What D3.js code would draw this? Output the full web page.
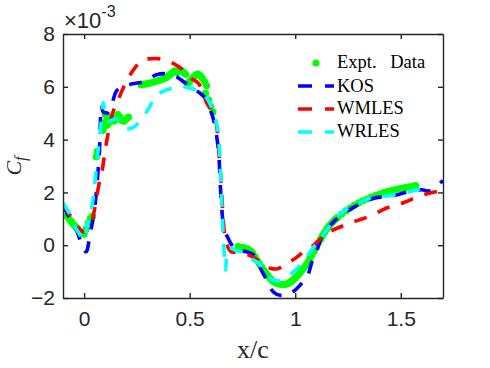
<!DOCTYPE html>
<html>
<head>
<meta charset="utf-8">
<script src="https://cdn.jsdelivr.net/npm/d3@7"></script>
<style>
  body { margin: 0; background: #fff; }
  svg { display: block; }
</style>
</head>
<body>
<svg id="chart" width="490" height="368"></svg>
<script>
// values are Cf x 1e-3
const expX = [-0.08,-0.07,-0.06,-0.05,-0.04,-0.03,-0.02,-0.01,0.00,0.01,0.02,0.03,0.04,
  0.058,0.062,0.085,0.09,0.095,0.10,0.105,0.11,0.115,0.12,0.13,0.14,0.15,0.16,0.17,0.18,0.19,0.20,0.21,
  0.27,0.285,0.30,0.315,0.33,0.345,0.36,0.375,0.39,0.40,0.41,0.42,0.43,0.44,0.45,0.46,0.47,0.48,
  0.49,0.50,0.51,0.52,0.53,0.54,0.55,0.56,0.57,0.58,0.575,0.59,0.60,0.61,
  0.73,0.745,0.76,0.775,0.79,0.80,0.81,0.82,0.83,0.84,0.85,0.86,0.87,0.88,0.89,0.90,0.91,0.92,0.93,0.94,
  0.95,0.96,0.97,0.98,0.99,1.00,1.01,1.02,1.03,1.04,1.05,1.06,1.07,1.08,1.09,1.10,1.11,1.12,1.13,1.14,
  1.15,1.16,1.17,1.18,1.19,1.20,1.22,1.24,1.26,1.28,1.30,1.32,1.34,1.36,1.38,1.40,1.42,1.44,1.46,1.48,
  1.50,1.52,1.54,1.56,1.57];
const expY = [1.10,0.98,0.88,0.78,0.70,0.62,0.52,0.45,0.42,0.62,0.85,1.02,1.10,
  3.35,3.55,4.55,4.35,4.6,4.95,4.7,4.55,4.6,4.75,4.85,4.7,4.75,4.95,4.85,4.72,4.7,4.78,4.85,
  6.08,6.1,6.12,6.15,6.18,6.22,6.25,6.3,6.35,6.42,6.48,6.55,6.6,6.55,6.6,6.62,6.55,6.48,
  6.12,6.2,6.3,6.38,6.45,6.48,6.42,6.32,6.2,6.05,5.75,5.5,5.25,5.05,
  -0.05,-0.08,-0.1,-0.14,-0.22,-0.32,-0.45,-0.58,-0.7,-0.82,-0.94,-1.05,-1.15,-1.25,-1.33,-1.39,-1.43,-1.46,-1.48,-1.49,
  -1.49,-1.47,-1.43,-1.38,-1.31,-1.24,-1.16,-1.07,-0.97,-0.87,-0.76,-0.64,-0.5,-0.36,-0.21,-0.06,0.09,0.23,0.37,0.5,
  0.62,0.72,0.82,0.9,0.98,1.05,1.18,1.3,1.41,1.51,1.6,1.68,1.75,1.82,1.88,1.94,1.99,2.04,2.08,2.12,
  2.15,2.18,2.21,2.24,2.26];

const kosX = [-0.1,-0.06,-0.03,-0.01,0.01,0.03,0.05,0.065,0.075,0.08,0.09,0.11,0.13,0.15,0.18,0.22,0.26,0.30,0.34,0.38,
  0.42,0.47,0.50,0.55,0.58,0.60,0.62,0.63,0.64,0.645,0.65,0.655,0.665,0.68,0.70,0.73,0.77,0.80,0.82,0.84,
  0.86,0.88,0.90,0.93,0.96,0.98,1.00,1.03,1.06,1.08,1.10,1.12,1.15,1.19,1.23,1.28,1.32,1.36,1.40,1.45,
  1.50,1.55,1.60,1.63,1.67,1.70];
const kosY = [1.5,0.9,0.45,0.0,-0.25,0.5,1.4,2.7,4.0,5.3,5.05,5.0,5.3,5.8,6.0,6.1,6.15,6.25,6.45,6.5,
  6.45,6.2,6.0,5.75,5.5,5.1,4.5,4.0,3.2,2.3,1.6,1.1,0.6,0.3,0.0,-0.2,-0.25,-0.35,-0.6,-0.95,
  -1.25,-1.6,-1.8,-1.9,-1.9,-1.8,-1.7,-1.45,-1.15,-0.6,-0.25,0.2,0.6,0.95,1.2,1.45,1.62,1.75,1.82,1.85,
  1.95,2.05,2.1,2.05,2.25,2.45];

const wmlesX = [-0.1,-0.05,-0.02,0.0,0.02,0.04,0.055,0.07,0.085,0.1,0.13,0.166,0.2,0.23,0.29,0.34,0.42,0.45,0.51,0.545,
  0.58,0.61,0.63,0.635,0.64,0.645,0.65,0.653,0.657,0.662,0.67,0.70,0.75,0.80,0.84,0.88,0.91,0.95,1.0,1.04,
  1.08,1.15,1.21,1.27,1.32,1.38,1.43,1.51,1.57,1.63,1.70];
const wmlesY = [1.5,0.95,0.6,0.5,0.6,1.0,1.6,2.3,2.8,3.6,4.85,5.6,6.2,6.6,7.05,7.07,6.9,6.75,6.3,6.1,
  5.4,5.0,4.4,3.9,3.3,2.8,2.2,1.8,1.2,0.7,0.2,-0.26,-0.3,-0.45,-0.65,-0.87,-0.9,-0.75,-0.5,-0.25,
  -0.05,0.45,0.68,0.87,1.0,1.2,1.4,1.6,1.8,1.96,2.08];

const wrlesX = [-0.1,-0.07,-0.05,-0.02,0.0,0.015,0.03,0.045,0.055,0.065,0.08,0.09,0.10,0.12,0.15,0.18,0.20,0.23,0.27,0.30,
  0.34,0.38,0.42,0.46,0.50,0.54,0.57,0.60,0.62,0.635,0.645,0.65,0.655,0.66,0.665,0.67,0.675,0.69,0.72,0.76,
  0.80,0.83,0.86,0.89,0.92,0.96,1.00,1.04,1.08,1.12,1.16,1.20,1.25,1.30,1.36,1.45,1.55,1.60];
const wrlesY = [1.6,1.2,0.8,0.4,0.2,0.8,1.2,1.9,2.7,3.5,4.6,5.4,5.0,4.7,4.8,4.6,4.4,4.45,4.75,5.1,
  5.65,5.85,5.95,6.02,5.95,5.85,5.7,5.3,4.8,4.3,3.0,2.0,1.0,0.2,-0.5,-0.95,-0.3,-0.1,-0.2,-0.3,
  -0.55,-0.7,-1.0,-1.3,-1.35,-1.2,-0.95,-0.6,-0.15,0.25,0.7,1.1,1.4,1.6,1.8,1.88,2.05,2.15];

const xTicks = [0, 0.5, 1, 1.5];
const yTicks = [-2, 0, 2, 4, 6, 8];
const seriesNames = ["Expt. Data", "KOS", "WMLES", "WRLES"];
const seriesColors = ["#00ff00", "#0000ff", "#ff0000", "#00ffff"];

const svg = d3.select("#chart");
const mLeft = 63, mRight = 443, mTop = 34, mBottom = 298;

const x = d3.scaleLinear().domain([-0.1, 1.7]).range([mLeft, mRight]);
const y = d3.scaleLinear().domain([-2, 8]).range([mBottom, mTop]);

const axisColor = "#262626";
const tickFont = "'Liberation Sans', Arial, sans-serif";
const serif = "'Liberation Serif', 'Times New Roman', serif";

// plot area clip
svg.append("defs").append("clipPath").attr("id", "clip")
  .append("rect").attr("x", mLeft).attr("y", mTop).attr("width", mRight - mLeft).attr("height", mBottom - mTop);

const plot = svg.append("g").attr("clip-path", "url(#clip)");

// experimental points
plot.append("g").selectAll("circle")
  .data(d3.zip(expX, expY))
  .join("circle")
  .attr("cx", d => x(d[0]))
  .attr("cy", d => y(d[1]))
  .attr("r", 3.6)
  .attr("fill", seriesColors[0]);

const line = d3.line()
  .x(d => x(d[0]))
  .y(d => y(d[1]))
  .curve(d3.curveMonotoneX);

const lines = [
  d3.zip(kosX, kosY),
  d3.zip(wmlesX, wmlesY),
  d3.zip(wrlesX, wrlesY)
];

plot.selectAll("path.series")
  .data(lines)
  .join("path")
  .attr("class", "series")
  .attr("d", line)
  .attr("fill", "none")
  .attr("stroke", (d, i) => seriesColors[i + 1])
  .attr("stroke-width", 3.6)
  .attr("stroke-dasharray", "13,12");

// axes, ticks inward on all four sides
const styleAxis = g => {
  g.attr("font-family", tickFont).attr("font-size", 21);
  g.select(".domain").attr("stroke", axisColor).attr("stroke-width", 1.4);
  g.selectAll(".tick line").attr("stroke", axisColor).attr("stroke-width", 1.4);
  g.selectAll(".tick text").attr("fill", axisColor);
};

svg.append("g")
  .attr("transform", `translate(0,${mBottom})`)
  .call(d3.axisBottom(x).tickValues(xTicks).tickFormat(d3.format("")).tickSizeInner(-5).tickSizeOuter(0).tickPadding(13))
  .call(styleAxis);

svg.append("g")
  .attr("transform", `translate(0,${mTop})`)
  .call(d3.axisTop(x).tickValues(xTicks).tickFormat("").tickSizeInner(-5).tickSizeOuter(0))
  .call(styleAxis);

svg.append("g")
  .attr("transform", `translate(${mLeft},0)`)
  .call(d3.axisLeft(y).tickValues(yTicks).tickFormat(d3.format("")).tickSizeInner(-5).tickSizeOuter(0).tickPadding(8))
  .call(styleAxis);

svg.append("g")
  .attr("transform", `translate(${mRight},0)`)
  .call(d3.axisRight(y).tickValues(yTicks).tickFormat("").tickSizeInner(-5).tickSizeOuter(0))
  .call(styleAxis);

// exponent label
const expo = svg.append("text")
  .attr("x", 64).attr("y", 28)
  .attr("font-family", tickFont).attr("font-size", 22)
  .attr("fill", axisColor);
expo.append("tspan").text("\u00d710");
expo.append("tspan").attr("dy", -11).attr("font-size", 16).text("-3");

// axis labels
svg.append("text")
  .attr("x", (mLeft + mRight) / 2).attr("y", 358)
  .attr("text-anchor", "middle")
  .attr("font-family", serif).attr("font-size", 26)
  .attr("fill", axisColor)
  .text("x/c");

const ylab = svg.append("text")
  .attr("transform", `translate(21,${(mTop + mBottom) / 2}) rotate(-90)`)
  .attr("text-anchor", "middle")
  .attr("font-family", serif).attr("font-style", "italic").attr("font-size", 22)
  .attr("fill", axisColor);
ylab.append("tspan").text("C");
ylab.append("tspan").attr("dy", 5).attr("font-size", 16).text("f");

// legend
const legendRows = [68, 92, 114, 137];
const legendLineY = [63, 86, 109, 132];
const legend = svg.append("g");
seriesNames.forEach((name, i) => {
  if (i === 0) {
    legend.append("circle").attr("cx", 316).attr("cy", legendLineY[i]).attr("r", 3.6).attr("fill", seriesColors[i]);
  } else {
    legend.append("line")
      .attr("x1", 298).attr("x2", 334)
      .attr("y1", legendLineY[i]).attr("y2", legendLineY[i])
      .attr("stroke", seriesColors[i]).attr("stroke-width", 3.6)
      .attr("stroke-dasharray", "14,13");
  }
  legend.append("text")
    .attr("x", 337).attr("y", legendRows[i])
    .attr("font-family", serif).attr("font-size", 18.5)
    .attr("fill", "#000")
    .attr("word-spacing", i === 0 ? 9 : 0)
    .text(name);
});
</script>
</body>
</html>
